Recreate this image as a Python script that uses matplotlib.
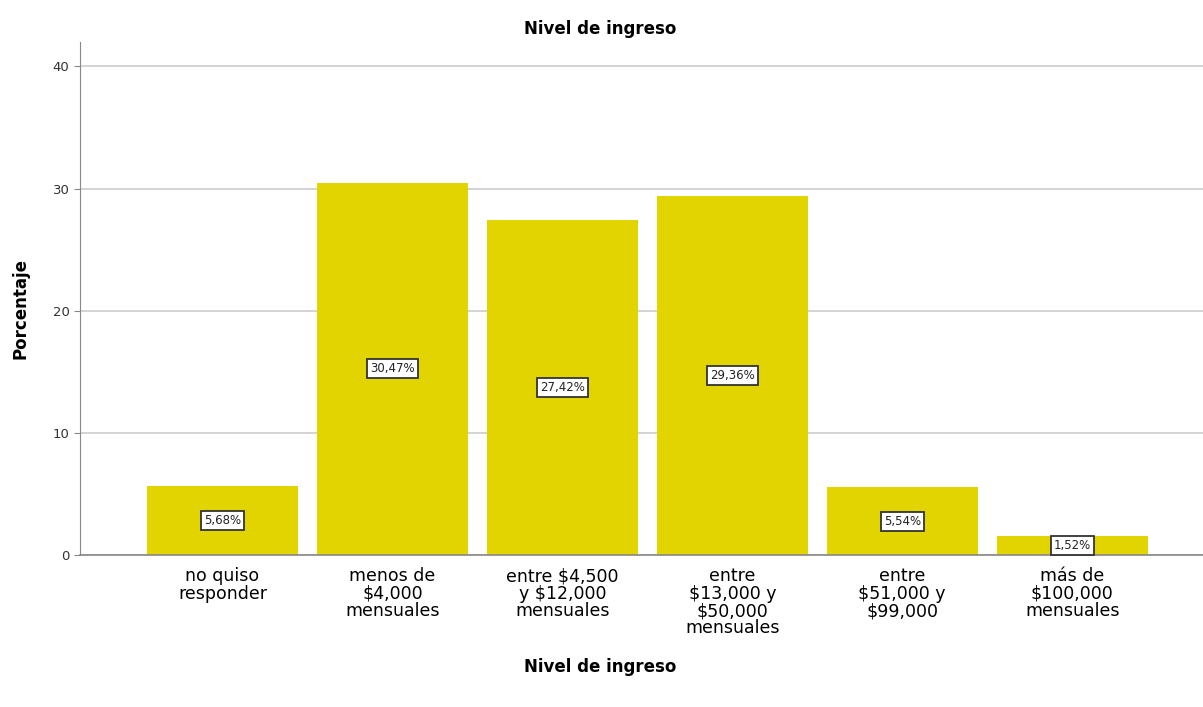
import matplotlib.pyplot as plt

categories = [
    "no quiso\nresponder",
    "menos de\n$4,000\nmensuales",
    "entre $4,500\ny $12,000\nmensuales",
    "entre\n$13,000 y\n$50,000\nmensuales",
    "entre\n$51,000 y\n$99,000",
    "más de\n$100,000\nmensuales",
]
percentages = [5.68, 30.47, 27.42, 29.36, 5.54, 1.52]
value_labels = ["5,68%", "30,47%", "27,42%", "29,36%", "5,54%", "1,52%"]
yticks = [0, 10, 20, 30, 40]

fig = plt.figure(figsize=(12.03, 7.07), dpi=100)
ax = fig.add_axes([0.0665, 0.215, 0.9335, 0.7256])

x = list(range(len(categories)))
ax.bar(x, percentages, width=0.89, color="#E1D400", zorder=2)

for xi, v, lab in zip(x, percentages, value_labels):
    ax.text(
        xi, v / 2, lab, ha="center", va="center", fontsize=8.5, zorder=3,
        color="#222222",
        bbox=dict(boxstyle="square,pad=0.25", facecolor="white",
                  edgecolor="#333333", linewidth=1.3),
    )

ax.set_xlim(-0.838, 5.77)
ax.set_ylim(0, 42)
ax.set_yticks(yticks)
ax.set_xticks(x)
ax.set_xticklabels(categories, fontsize=12.5, linespacing=0.95)
ax.tick_params(axis="x", length=0, pad=9)
ax.tick_params(axis="y", length=4, labelsize=9.5, color="#888888",
               labelcolor="#333333")
ax.yaxis.grid(True, color="#cccccc", linewidth=1.2, zorder=0)
ax.set_axisbelow(True)

for side in ["top", "right"]:
    ax.spines[side].set_visible(False)
ax.spines["left"].set_color("#888888")
ax.spines["bottom"].set_color("#888888")
ax.spines["bottom"].set_linewidth(1.2)

ax.set_title("Nivel de ingreso", fontsize=12, fontweight="bold", x=0.463, pad=6)
ax.set_xlabel("Nivel de ingreso", fontsize=12, fontweight="bold")
ax.xaxis.set_label_coords(0.463, -0.2)
ax.set_ylabel("Porcentaje", fontsize=12, fontweight="bold")
ax.yaxis.set_label_coords(-0.045, 0.48)

fig.savefig("out.png", dpi=100)
